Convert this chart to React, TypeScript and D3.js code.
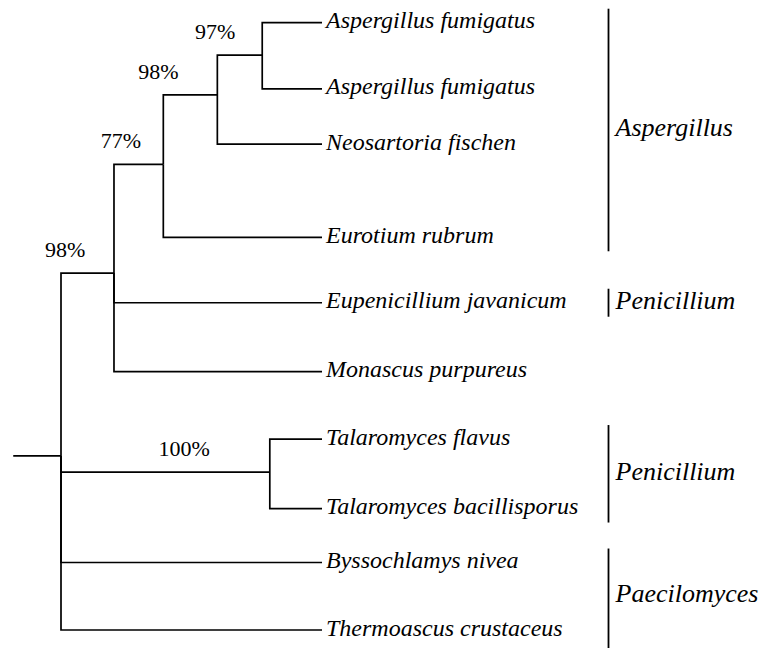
import React, { useRef, useEffect } from "react"
import * as d3 from "d3"

// leaves, top to bottom
const leafNames = [
  "Aspergillus fumigatus",
  "Aspergillus fumigatus",
  "Neosartoria fischen",
  "Eurotium rubrum",
  "Eupenicillium javanicum",
  "Monascus purpureus",
  "Talaromyces flavus",
  "Talaromyces bacillisporus",
  "Byssochlamys nivea",
  "Thermoascus crustaceus",
]
const leafRows = [0, 0.98, 1.8, 3.18, 4.15, 5.17, 6.17, 7.2, 8.0, 9.0]
const leafParents = ["n97", "n97", "n98i", "n77", "n98o", "n98o", "nTal", "nTal", "root", "root"]
const leafDepth = 10

// internal nodes
const cladeIds = ["root", "n98o", "n77", "n98i", "n97", "nTal"]
const cladeParents = [null, "root", "n98o", "n77", "n98i", "root"]
const cladeDepths = [0, 2.03, 3.92, 5.99, 7.71, 8.0]
const cladeRows = [6.42, 3.71, 2.1, 1.07, 0.48, 6.66]
const cladeSupport = ["", "98%", "77%", "98%", "97%", "100%"]
const supportAt = [0, 0.08, 0.14, -0.09, -0.05, 0.59]
const rootStub = -1.83

// genus brackets
const groupNames = ["Aspergillus", "Penicillium", "Penicillium", "Paecilomyces"]
const groupFirst = [0, 4, 6, 8]
const groupLast = [3, 4, 7, 9]

type Row = { id: string; parent: string | null; depth: number; row: number; label: string; at: number; leaf: boolean }

const width = 762
const height = 648

export default function App() {
  const svgRef = useRef<SVGSVGElement>(null)

  useEffect(() => {
    const svg = d3.select(svgRef.current)
    svg.selectAll("*").remove()

    const rows: Row[] = [
      ...cladeIds.map((id, i) => ({
        id,
        parent: cladeParents[i],
        depth: cladeDepths[i],
        row: cladeRows[i],
        label: cladeSupport[i],
        at: supportAt[i],
        leaf: false,
      })),
      ...leafNames.map((name, i) => ({
        id: "leaf" + i,
        parent: leafParents[i],
        depth: leafDepth,
        row: leafRows[i],
        label: name,
        at: 0,
        leaf: true,
      })),
    ]

    const root = d3
      .stratify<Row>()
      .id(d => d.id)
      .parentId(d => d.parent)(rows)

    const xScale = d3.scaleLinear().domain([0, leafDepth]).range([61, 322])
    const yScale = d3.scaleLinear().domain([0, 9]).range([22.7, 630])

    const g = svg.append("g")
    const links = root.links()
    const stroke = 1.7

    g.selectAll("path.link")
      .data(links)
      .enter()
      .append("path")
      .attr("class", "link")
      .attr("fill", "none")
      .attr("stroke", "#000")
      .attr("stroke-width", stroke)
      .attr("d", l => {
        const px = xScale(l.source.data.depth)
        const py = yScale(l.source.data.row)
        const cx = xScale(l.target.data.depth)
        const cy = yScale(l.target.data.row)
        return `M${px},${py}V${cy}H${cx}`
      })

    // root stub
    g.append("line")
      .attr("x1", xScale(rootStub))
      .attr("x2", xScale(0))
      .attr("y1", yScale(root.data.row))
      .attr("y2", yScale(root.data.row))
      .attr("stroke", "#000")
      .attr("stroke-width", stroke)

    const font = "'Liberation Serif', 'Times New Roman', serif"

    // support values
    g.selectAll("text.support")
      .data(links.filter(l => !l.target.data.leaf && l.target.data.label))
      .enter()
      .append("text")
      .attr("class", "support")
      .attr("x", l => {
        const x0 = xScale(l.source.data.depth)
        const x1 = xScale(l.target.data.depth)
        return x0 + l.target.data.at * (x1 - x0)
      })
      .attr("y", l => yScale(l.target.data.row) - 16)
      .attr("text-anchor", "middle")
      .attr("font-family", font)
      .attr("font-size", 22)
      .text(l => l.target.data.label)

    // leaf names
    g.selectAll("text.leaf")
      .data(root.leaves())
      .enter()
      .append("text")
      .attr("class", "leaf")
      .attr("x", xScale(leafDepth) + 4)
      .attr("y", d => yScale(d.data.row) + 5.5)
      .attr("font-family", font)
      .attr("font-style", "italic")
      .attr("font-size", 24)
      .text(d => d.data.label)

    // genus brackets
    const groups = groupNames.map((name, i) => ({
      name,
      top: yScale(leafRows[groupFirst[i]]) - 14,
      bottom: yScale(leafRows[groupLast[i]]) + 14,
    }))
    const gx = 608.5

    const gg = g.selectAll("g.group").data(groups).enter().append("g").attr("class", "group")
    gg.append("line")
      .attr("x1", gx)
      .attr("x2", gx)
      .attr("y1", d => d.top)
      .attr("y2", (d, i) => (i === groups.length - 1 ? height : d.bottom))
      .attr("stroke", "#000")
      .attr("stroke-width", 1.8)
    gg.append("text")
      .attr("x", gx + 7)
      .attr("y", d => (d.top + d.bottom) / 2 + 6)
      .attr("font-family", font)
      .attr("font-style", "italic")
      .attr("font-size", 26)
      .text(d => d.name)
  }, [])

  return (
    <svg
      ref={svgRef}
      width={width}
      height={height}
      style={{ position: "absolute", left: 0, top: 0, background: "#fff" }}
    />
  )
}
